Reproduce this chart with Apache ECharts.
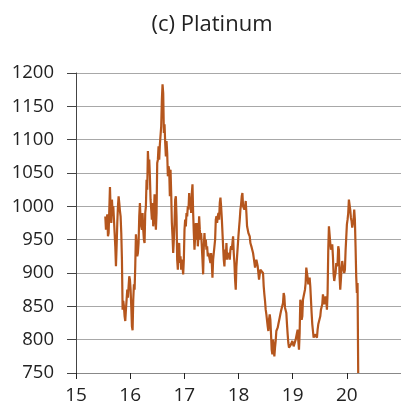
<!DOCTYPE html>
<html>
<head>
<meta charset="utf-8">
<script src="https://cdn.jsdelivr.net/npm/echarts@6/dist/echarts.min.js"></script>
<style>html,body{margin:0;padding:0;background:#fff}#c{width:401px;height:410px}</style>
</head>
<body>
<div id="c"></div>
<script>
// Title and axis ticks
const chartTitle = '(c) Platinum';
const yTicks = [750, 800, 850, 900, 950, 1000, 1050, 1100, 1150, 1200];
const xTickLabels = [15, 16, 17, 18, 19, 20];

// Sampling of the series (decimal years, two-digit year)
const startYear = 15.541;
const stepYears = 0.012287;

// Platinum price (2015 - early 2020)
const price2015_2016 = [
  985,965,980,988,955,960,995,1029,995,975,1010,990,1000,980,960,940,910,940,975,1000,
  1015,1005,993,985,960,920,845,858,850,835,828,845,860,875,863,880,895,890,875,850,
  820,814,860,883,875,910,958,945,925,930,945,985,1005,980,970,965,990,965,950,945,
  990,1000,1040,1025,1083,1060,1070,1045,1010,995,980,1005,970,985,1018,990,965,990,1065,1070,
  1090,1070,1093,1095,1120,1160,1183,1170,1110,1123,1095,1075,1098,1080,1045,1060,1055,1015,1055,1020
];
const price2017 = [
  975,955,930,950,975,1010,1015,985,920,905,940,945,915,925,905,920,910,898,920,965,
  980,970,990,985,1000,995,1020,1005,1010,990,1020,1033,990,960,935,955,975,950,975,940,
  955,985,965,950,960,940,920,898,940,960,940,950,935,940,925,930,933,920,915,930,
  915,893,920,930,940,950,980,985,975,985,990,980
];
const price2018 = [
  1005,1013,1000,983,980,940,920,910,935,920,945,920,930,925,930,920,935,940,935,945,
  955,930,915,890,875,910,925,940,955,968,980,995,1003,1015,1020,1000,1000,995,1000,1008,
  990,970,968,960,958,955,945,943,938,935,930,923,920,908,905,920,920,910,900,890,
  898,905,903,903,904,900,880,868,858,845,838,838,820,813,830,838,830,808,785,778,
  800,790,775,788,798,813,815,818,823,825,833,838,843,840,843,855,870,865,848,845
];
const price2019_2020 = [
  840,823,808,795,788,790,790,793,795,798,800,790,790,793,800,803,810,815,798,785,
  810,860,855,830,835,860,865,870,875,885,908,905,893,883,885,893,880,860,840,823,
  813,803,805,808,810,808,803,815,823,820,823,835,845,848,853,868,868,853,853,865,
  860,845,870,935,970,958,945,935,938,943,925,898,888,895,900,915,910,915,940,935,
  895,875,890,908,918,910,905,900,905,933,953,973,980,990,1010,1013,995,983,978,968,
  970,980,995,980,940,895,870,885,750
];

const prices = [].concat(price2015_2016, price2017, price2018, price2019_2020);
const seriesData = prices.map((v, i) => [startYear + i * stepYears, v]);

const chart = echarts.init(document.getElementById('c'), null, {renderer: 'canvas'});
const font = '"Open Sans", "Noto Sans", sans-serif';
chart.setOption({
  animation: false,
  graphic: [{
    type: 'text',
    x: 212, y: 25,
    style: {
      text: chartTitle, fontFamily: font, fontSize: 22, fill: '#222',
      textAlign: 'center', textVerticalAlign: 'middle'
    }
  }],
  grid: {left: 76, right: 0, top: 73, bottom: 37, containLabel: false},
  xAxis: {
    type: 'value',
    min: 15, max: 21, interval: 1,
    axisLine: {show: true, lineStyle: {color: '#888', width: 1}},
    axisTick: {show: true, inside: false, length: 6, lineStyle: {color: '#222'}},
    axisLabel: {
      margin: 13, color: '#222', fontFamily: font, fontSize: 19,
      showMaxLabel: false,
      formatter: v => xTickLabels.includes(v) ? String(v) : ''
    },
    splitLine: {show: false}
  },
  yAxis: {
    type: 'value',
    min: yTicks[0], max: yTicks[yTicks.length - 1], interval: 50,
    axisLine: {show: true, lineStyle: {color: '#444', width: 1}},
    axisTick: {show: true, inside: false, length: 9, lineStyle: {color: '#444'}},
    axisLabel: {margin: 22, color: '#222', fontFamily: font, fontSize: 18.5, formatter: v => String(v)},
    splitLine: {show: true, lineStyle: {color: '#a8a8a8', width: 1}}
  },
  series: [{
    type: 'line',
    data: seriesData,
    showSymbol: false,
    symbol: 'none',
    clip: true,
    lineStyle: {color: '#b5561d', width: 2.2},
    z: 3
  }]
});
</script>
</body>
</html>
